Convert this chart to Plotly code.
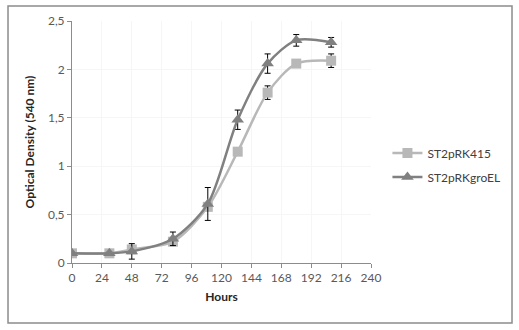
import plotly.graph_objects as go

hours = [0, 30, 48, 81, 109, 133, 157, 180, 208]
od_rk415 = [0.10, 0.10, 0.14, 0.22, 0.58, 1.15, 1.76, 2.06, 2.09]
err_rk415 = [0.0, 0.0, 0.02, 0.02, 0.03, 0.0, 0.07, 0.02, 0.07]
od_groel = [0.10, 0.10, 0.12, 0.25, 0.61, 1.48, 2.06, 2.30, 2.28]
err_groel = [0.01, 0.01, 0.08, 0.07, 0.17, 0.10, 0.10, 0.06, 0.05]

FONT = "Lato, 'Open Sans', sans-serif"

fig = go.Figure()

fig.add_trace(go.Scatter(
    x=hours,
    y=od_rk415,
    name='ST2pRK415',
    legendgroup='a',
    mode='lines+markers',
    line=dict(color='#b8b8b8', width=2.5, shape='spline', smoothing=0.8),
    marker=dict(symbol='square', size=10, color='#b8b8b8'),
    error_y=dict(type='data', array=err_rk415, color='black', thickness=1, width=3)
))

fig.add_trace(go.Scatter(
    x=hours,
    y=od_groel,
    name='ST2pRKgroEL',
    legendgroup='b',
    mode='lines+markers',
    line=dict(color='#808080', width=2.5, shape='spline', smoothing=0.8),
    marker=dict(symbol='triangle-up', size=11, color='#808080'),
    error_y=dict(type='data', array=err_groel, color='black', thickness=1, width=3)
))

# outer chart border
fig.add_shape(type='rect', xref='paper', yref='paper',
              x0=-0.214, x1=1.4716, y0=-0.248, y1=1.062,
              line=dict(color='#8c8c8c', width=1.5), layer='below')

fig.update_layout(
    width=519,
    height=330,
    margin=dict(l=72, r=148, t=21, b=67, autoexpand=False),
    paper_bgcolor='white',
    plot_bgcolor='white',
    separators=',.',
    font=dict(family=FONT, size=12, color='#595959'),
    showlegend=True,
    legend=dict(x=1.055, y=0.405, xanchor='left', yanchor='middle',
                font=dict(family=FONT, size=12, color='#404040'),
                itemwidth=30, tracegroupgap=5, bgcolor='rgba(0,0,0,0)'),
    xaxis=dict(
        range=[0, 240], dtick=24, tick0=0, automargin=False,
        title=dict(text='<b>Hours</b>', font=dict(family=FONT, size=12, color='#262626'), standoff=8),
        showline=True, linecolor='#8c8c8c', linewidth=1,
        ticks='outside', ticklen=4, tickcolor='#8c8c8c',
        showgrid=True, gridcolor='#f6f6f6', zeroline=False
    ),
    yaxis=dict(
        range=[0, 2.5], dtick=0.5, tick0=0, automargin=False,
        title=dict(text='<b>Optical Density (540 nm)</b>', font=dict(family=FONT, size=12, color='#262626'), standoff=10),
        showline=True, linecolor='#8c8c8c', linewidth=1,
        ticks='outside', ticklen=4, tickcolor='#8c8c8c',
        showgrid=True, gridcolor='#f6f6f6', zeroline=False
    )
)

fig.write_html("out.html", config={'displayModeBar': False},
               post_script="document.body.style.margin='0';")
